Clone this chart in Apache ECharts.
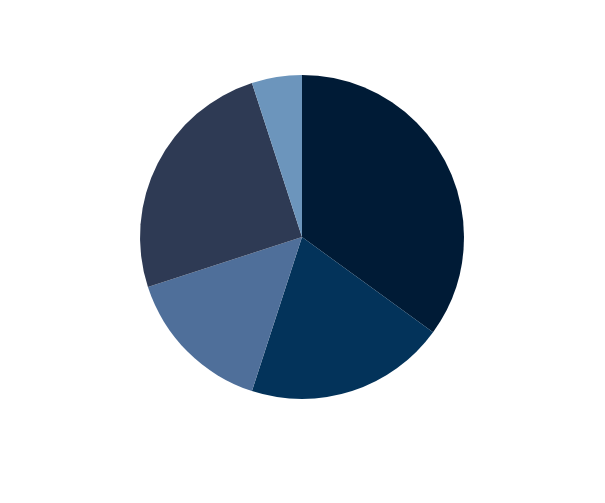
<!DOCTYPE html>
<html><head><meta charset="utf-8">
<script src="https://cdn.jsdelivr.net/npm/echarts@6/dist/echarts.min.js"></script>
<style>html,body{margin:0;padding:0;background:#fff}#c{width:605px;height:503px}</style>
</head><body><div id="c"></div>
<script>
var categories = ['A', 'B', 'C', 'D', 'E'];
var values = [35, 20, 15, 25, 5];
var colors = ['#001b36', '#03335a', '#4f6f9a', '#2e3a54', '#6c95bc'];
var chart = echarts.init(document.getElementById('c'));
chart.setOption({
  animation: false,
  color: colors,
  series: [{
    type: 'pie',
    center: [302, 237],
    radius: 162,
    startAngle: 90,
    clockwise: true,
    label: {show: false},
    labelLine: {show: false},
    itemStyle: {borderWidth: 0},
    data: categories.map(function (c, i) { return {name: c, value: values[i]}; })
  }]
});
</script></body></html>
